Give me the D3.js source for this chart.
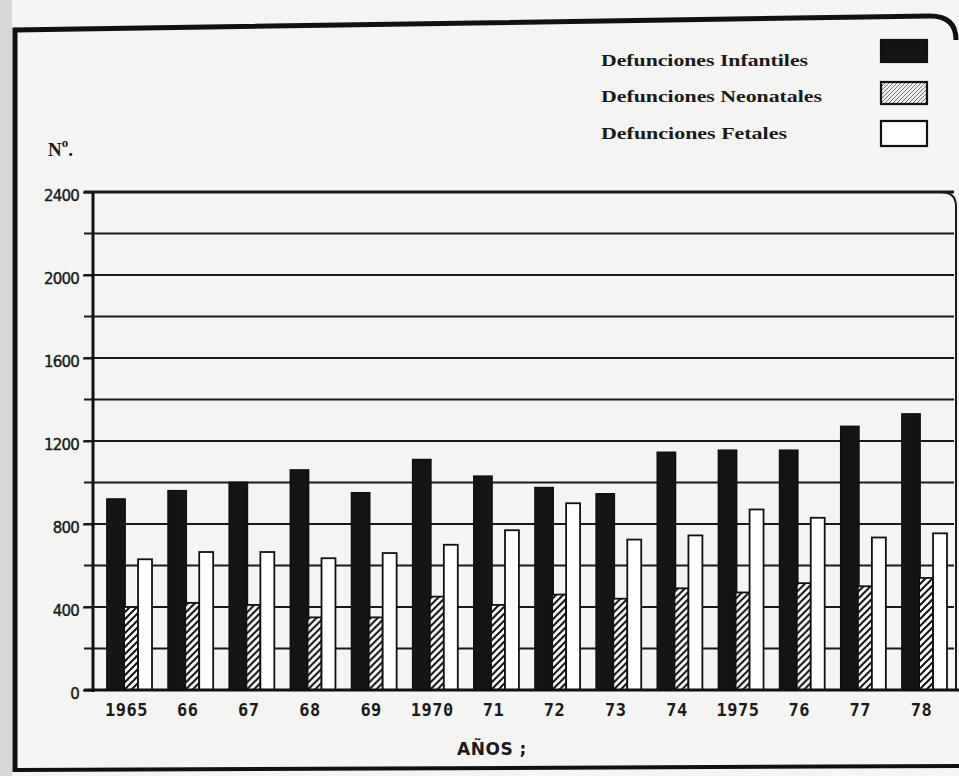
<!DOCTYPE html>
<html><head><meta charset="utf-8">
<script src="https://cdn.jsdelivr.net/npm/d3@7"></script>
<style>html,body{margin:0;padding:0;background:#f4f4f2;}svg{display:block;}</style>
</head><body>
<script>
const years = ["1965","66","67","68","69","1970","71","72","73","74","1975","76","77","78"];
const infantiles = [920, 960, 1000, 1060, 950, 1110, 1030, 975, 945, 1145, 1155, 1155, 1270, 1330];
const neonatales = [400, 420, 410, 350, 350, 450, 410, 460, 440, 490, 470, 515, 500, 540];
const fetales    = [630, 665, 665, 635, 660, 700, 770, 900, 725, 745, 870, 830, 735, 755];
const seriesNames = ["Defunciones Infantiles","Defunciones Neonatales","Defunciones Fetales"];
const yTicks = [0, 400, 800, 1200, 1600, 2000, 2400];

const W = 959, H = 776;
const svg = d3.select("body").append("svg").attr("width", W).attr("height", H);
const defs = svg.append("defs");
const hatch = defs.append("pattern").attr("id","hatch").attr("patternUnits","userSpaceOnUse")
  .attr("width",7).attr("height",7);
hatch.append("rect").attr("width",7).attr("height",7).attr("fill","#fff");
hatch.append("path").attr("d","M-1,1 l2,-2 M0,7 l7,-7 M6,8 l2,-2").attr("stroke","#111").attr("stroke-width",2);
const dots = defs.append("pattern").attr("id","dots").attr("patternUnits","userSpaceOnUse")
  .attr("width",4).attr("height",4);
dots.append("rect").attr("width",4).attr("height",4).attr("fill","#eee");
dots.append("path").attr("d","M-1,1 l2,-2 M0,4 l4,-4 M3,5 l2,-2").attr("stroke","#666").attr("stroke-width",0.9);

// paper
svg.append("rect").attr("width",W).attr("height",H).attr("fill","#f4f4f2");
svg.append("rect").attr("x",0).attr("y",0).attr("width",12).attr("height",H).attr("fill","#d8d8d6");

// outer frame
svg.append("path").attr("d","M15,772 L15,30 L930,16 Q956,16 956,40")
  .attr("fill","none").attr("stroke","#111").attr("stroke-width",5);
svg.append("path").attr("d","M15,770 L959,766").attr("fill","none").attr("stroke","#111").attr("stroke-width",4);

const x0 = d3.scaleBand().domain(years).range([107, 947]).paddingInner(0.264).paddingOuter(0);
const y = d3.scaleLinear().domain([0, 2400]).range([690, 192]);
// bar widths inside group: black wider than the other two
const bw = x0.bandwidth();
const subOff = [0, bw*0.38, bw*0.69];
const subW = [bw*0.40, bw*0.31, bw*0.31];

// gridlines every 200
const g = svg.append("g");
const gridVals = d3.range(200, 2401, 200);
g.selectAll("line.grid").data(gridVals).join("line")
  .attr("x1",84).attr("x2",954).attr("y1",d=>y(d)).attr("y2",d=>y(d))
  .attr("stroke","#1a1a1a").attr("stroke-width",d=>d===2400?3:2);
svg.append("path").attr("d",`M940,${y(2400)} Q956,${y(2400)} 956,${y(2400)+14} L956,${y(0)}`)
  .attr("fill","none").attr("stroke","#1a1a1a").attr("stroke-width",2);

// y axis
const yAxis = d3.axisLeft(y).tickValues(yTicks).tickSize(10).tickPadding(4).tickFormat(d3.format("d"));
const ya = svg.append("g").attr("transform","translate(93,0)").call(yAxis);
ya.select(".domain").remove();
ya.selectAll(".tick line").attr("stroke","#1a1a1a").attr("stroke-width",2);
ya.selectAll(".tick text").attr("font-family","DejaVu Sans").attr("font-size",15)
  .attr("letter-spacing","-0.8").attr("fill","#1a1a1a").attr("stroke","#1a1a1a").attr("stroke-width",0.4)
  .attr("dy","0.55em");
svg.append("line").attr("x1",93).attr("x2",93).attr("y1",y(2400)).attr("y2",y(0)+2)
  .attr("stroke","#111").attr("stroke-width",3);

// bars
const fills = ["#151515","url(#hatch)","#ffffff"];
const data = years.map((yr,i)=>({yr, vals:[infantiles[i], neonatales[i], fetales[i]]}));
const grp = svg.append("g").selectAll("g").data(data).join("g")
  .attr("transform",d=>`translate(${x0(d.yr)},0)`);
grp.selectAll("rect").data(d=>d.vals.map((v,k)=>({v,k}))).join("rect")
  .attr("x",d=>subOff[d.k]).attr("width",d=>subW[d.k])
  .attr("y",d=>y(d.v)).attr("height",d=>y(0)-y(d.v))
  .attr("fill",d=>fills[d.k]).attr("stroke","#111").attr("stroke-width",1.8);

// baseline
svg.append("line").attr("x1",84).attr("x2",959).attr("y1",y(0)).attr("y2",y(0))
  .attr("stroke","#111").attr("stroke-width",3);

// x axis labels
const xAxis = d3.axisBottom(x0).tickSize(0).tickPadding(14);
const xa = svg.append("g").attr("transform",`translate(-3,${y(0)})`).call(xAxis);
xa.select(".domain").remove();
xa.selectAll(".tick text").attr("font-family","DejaVu Sans Mono").attr("font-weight","bold")
  .attr("font-size",17).attr("fill","#1a1a1a").attr("letter-spacing","0.5");

// axis titles
svg.append("text").attr("x",492).attr("y",755).attr("text-anchor","middle")
  .attr("font-family","DejaVu Sans").attr("font-weight","600").attr("font-size",17)
  .attr("letter-spacing","0.5").attr("fill","#1a1a1a").text("AÑOS ;");
const nt = svg.append("text").attr("x",48).attr("y",156).attr("font-family","Liberation Serif")
  .attr("font-weight","bold").attr("font-size",19).attr("fill","#1a1a1a");
nt.append("tspan").text("N");
nt.append("tspan").attr("dy",-9).attr("font-size",13).text("o");
nt.append("tspan").attr("dy",9).text(".");

// legend
const legFills = ["#151515","url(#dots)","#ffffff"];
const legY = [40, 82, 121];
const legBase = [66, 102, 139];
const legLen = [207, 221, 186];
const leg = svg.append("g");
seriesNames.forEach((s,i)=>{
  leg.append("text").attr("x",601).attr("y",legBase[i]).attr("font-family","Liberation Serif")
    .attr("font-weight","bold").attr("font-size",17).attr("fill","#1a1a1a")
    .attr("textLength",legLen[i]).attr("lengthAdjust","spacingAndGlyphs").text(s);
  leg.append("rect").attr("x",881).attr("y",legY[i]).attr("width",46).attr("height",i===2?25:22)
    .attr("fill",legFills[i]).attr("stroke","#111").attr("stroke-width",2.2);
});
</script>
</body></html>
